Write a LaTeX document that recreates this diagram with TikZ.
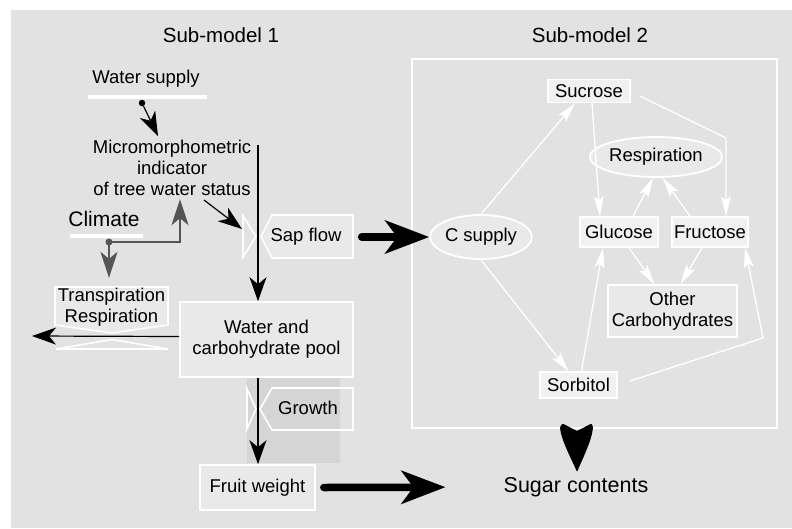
\documentclass[tikz,border=0pt]{standalone}
\usepackage{fontspec}
\setmainfont{Liberation Sans}
\usetikzlibrary{arrows.meta,shapes.geometric}
\definecolor{bg}{HTML}{E2E2E2}
\definecolor{boxfill}{HTML}{E9E9E9}
\definecolor{litefill}{HTML}{F1F1F1}
\definecolor{shadegray}{HTML}{D5D5D5}
\definecolor{climgray}{HTML}{555555}
\begin{document}
\begin{tikzpicture}[x=1pt,y=-1pt,
  txt/.style={font=\fontsize{18.5}{21}\selectfont, align=center, inner sep=0pt},
  bigtxt/.style={font=\fontsize{21}{24}\selectfont, align=center, inner sep=0pt},
  wbox/.style={txt, draw=white, line width=1.6pt, fill=boxfill},
  lbox/.style={txt, draw=white, line width=1.6pt, fill=litefill},
  wline/.style={draw=white, line width=1.6pt},
  ell/.style={txt, ellipse, draw=white, line width=1.8pt, fill=boxfill},
  bar/.style={fill=white, draw=none, inner sep=0pt, minimum height=4.5pt},
  blk/.style={draw=black, line width=1.2pt, -{Stealth[length=24pt,width=17pt,inset=7pt]}},
  garr/.style={draw=climgray, line width=2.2pt, -{Stealth[length=26pt,width=17pt,inset=7pt,fill=climgray]}},
  fat/.style={draw=black, line width=7.5pt, line cap=round, -{Stealth[length=44pt,width=33pt,inset=12pt]}},
  warr/.style={draw=white, line width=1.3pt, -{Stealth[length=20pt,width=10pt,inset=4pt,fill=white]}}]
\useasboundingbox (0,0) rectangle (792,528);
\fill[white] (0,0) rectangle (792,528);
\fill[bg] (11,10) rectangle (792,528);

% ---------- Sub-model 1 ----------
\node[txt, font=\fontsize{20.5}{24}\selectfont] (t1) at (221,35) {Sub-model 1};
\node[txt] (ws) at (146,79) {Water supply};
\node[bar, minimum width=119pt] (wsbar) at (147.5,97) {};
\node[circle, fill=black, inner sep=0pt, minimum size=6.5pt] (wsdot) at (142,103) {};
\node[txt, minimum height=62pt] (micro) at (172,168) {Micromorphometric\\indicator\\of tree water status};
\coordinate (wstip) at (158,136);
\draw[blk] (wsdot) -- (wstip);

% Climate
\node[bigtxt] (clim) at (104,219) {Climate};
\node[bar, minimum width=73pt] (clbar) at (106.5,236) {};
\coordinate (cturn) at (180,242);
\node[circle, fill=climgray, inner sep=0pt, minimum size=7pt] (cldot) at (109,242) {};
\draw[garr] (cldot.center) -- (cturn) -- (cturn |- micro.south);

% Transpiration box with valve
\draw[wline, fill=boxfill] (55,287) -- (168,287) -- (168,325) -- (112,333) -- (55,325) -- cycle;
\draw[wline] (56,349) -- (112,339.5) -- (168,349) -- cycle;
\node[txt, minimum width=113pt, minimum height=40pt] (transp) at (111.5,307) {Transpiration\\Respiration};
\draw[garr] (cldot.center) -- ([yshift=9pt]cldot |- transp.north);

% Water pool
\node[wbox, minimum width=173pt, minimum height=75pt] (pool) at (266.5,339.5) {Water and\\carbohydrate pool};
\coordinate (tend) at (32,336);
\draw[blk] ([yshift=3pt]pool.west) -- (tend);

% Sap flow with valve
\draw[wline, fill=boxfill] (272,215) -- (353,215) -- (353,258) -- (272,258) -- (261,236.5) -- cycle;
\draw[wline] (243,216) -- (256,236.5) -- (243,257) -- cycle;
\node[txt] (sap) at (306,237) {Sap flow};
\coordinate (mtop) at (258,145);
\draw[blk] (mtop) -- (mtop |- pool.north);
\coordinate (stat) at (204,200);
\coordinate (saptip) at (242,229);
\draw[blk] (stat) -- (saptip);

% Growth with valve
\fill[shadegray] (247,378) rectangle (340,463);
\draw[wline] (272,388) -- (353,388) -- (353,430) -- (272,430) -- (260,409) -- cycle;
\draw[wline] (247,389) -- (256,409) -- (247,429) -- cycle;
\node[txt] (growth) at (308,408) {Growth};

% Fruit weight
\node[wbox, minimum width=115pt, minimum height=45pt] (fruit) at (257.5,487.5) {Fruit weight};
\draw[blk] (pool.south -| mtop) -- (fruit.north -| mtop);

% ---------- Sub-model 2 ----------
\node[txt, font=\fontsize{20.5}{24}\selectfont] (t2) at (590,35) {Sub-model 2};
\node[draw=white, line width=2pt, minimum width=365pt, minimum height=369pt, inner sep=0pt] (frame) at (594.5,243.5) {};

\node[lbox, minimum width=82pt, minimum height=23pt] (sucr) at (589,91) {Sucrose};
\node[ell, minimum width=114pt, minimum height=40pt] (resp) at (656,157) {Respiration};
\node[ell, minimum width=98pt, minimum height=44pt] (csup) at (481,237) {C supply};
\node[lbox, minimum width=78pt, minimum height=30pt] (gluc) at (619,232) {Glucose};
\node[lbox, minimum width=76pt, minimum height=30pt] (fruc) at (710,232) {Fructose};
\node[wbox, minimum width=129pt, minimum height=52pt] (other) at (672.5,311) {Other\\Carbohydrates};
\node[lbox, minimum width=77pt, minimum height=26pt] (sorb) at (578.5,385) {Sorbitol};

\draw[warr] (csup.north) -- ([xshift=-14pt]sucr.south);
\draw[warr] ([xshift=3pt]sucr.south) -- ([xshift=-19pt]gluc.north);
\coordinate (sfbend) at (726,138);
\draw[warr] ([xshift=9pt,yshift=-5pt]sucr.east) -- (sfbend) -- (sfbend |- fruc.north);
\draw[warr] ([xshift=14pt]gluc.north) -- (resp.262);
\draw[warr] ([xshift=-20pt]fruc.north) -- (resp.288);
\draw[warr] ([xshift=10pt]gluc.south) -- ([xshift=-18pt]other.north);
\draw[warr] ([xshift=-8pt]fruc.south) -- ([xshift=8pt]other.north);
\draw[warr] ([xshift=3pt]sorb.north) -- ([xshift=-16pt]gluc.south);
\coordinate (sobend) at (763,338);
\draw[warr] ([xshift=12pt,yshift=4pt]sorb.east) -- (sobend) -- ([xshift=35pt]fruc.south);
\draw[warr] (csup.south) -- ([xshift=-10pt]sorb.north);

% Outputs
\node[bigtxt, font=\fontsize{21.5}{24}\selectfont] (sugar) at (576,487) {Sugar contents};
\draw[fat, shorten >=58pt] ([xshift=8pt]fruit.east) -- (sugar.west);
\draw[fat] ([xshift=20pt]sap.east) -- (csup.west);
\fill[black, rounded corners=1pt] (577,472) .. controls (572,460) and (561,440) .. (560,427) -- (562.5,423.5) -- (577,431) -- (591.5,423.5) -- (593,427) .. controls (592,440) and (582,460) .. (577,472) -- cycle;
\end{tikzpicture}
\end{document}
